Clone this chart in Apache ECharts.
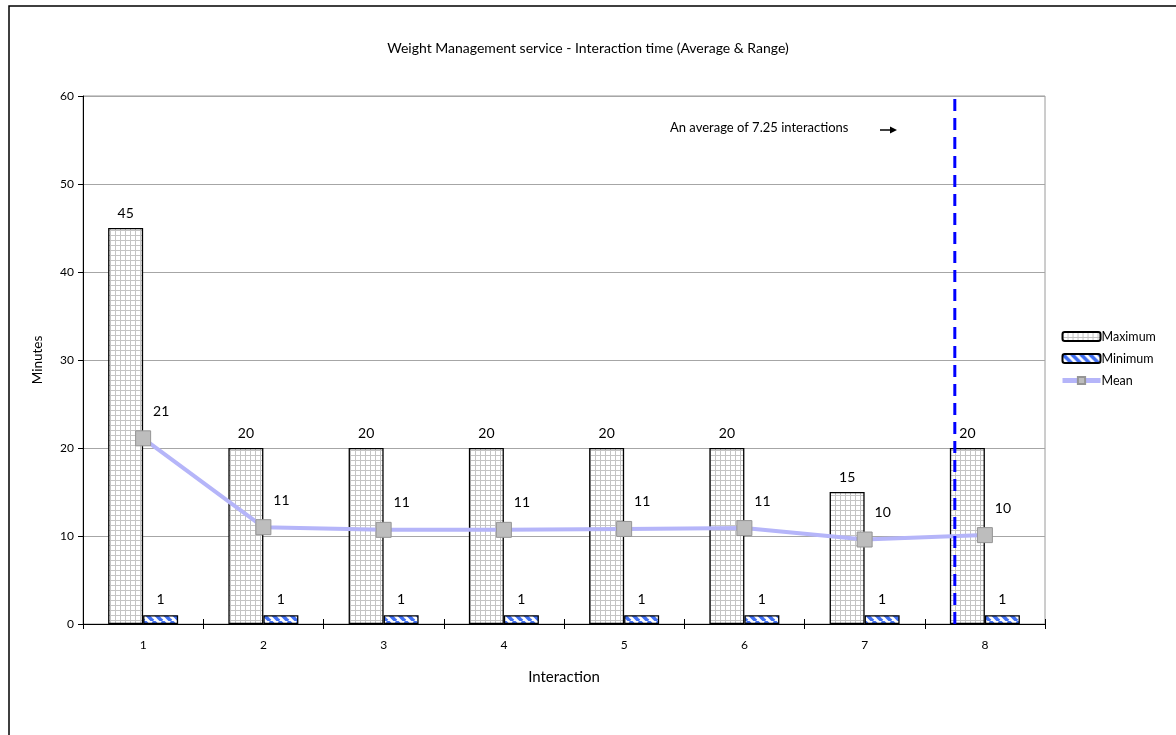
<!DOCTYPE html>
<html>
<head>
<meta charset="utf-8">
<title>Weight Management service - Interaction time</title>
<script src="https://cdn.jsdelivr.net/npm/echarts@6/dist/echarts.min.js"></script>
<style>
  html, body { margin: 0; padding: 0; background: #ffffff; }
  #chart { width: 1176px; height: 735px; }
</style>
</head>
<body>
<div id="chart"></div>
<script>
// Interaction number on the x axis
const interactions = ['1', '2', '3', '4', '5', '6', '7', '8'];
// Minutes per interaction
const maximumMinutes = [45, 20, 20, 20, 20, 20, 15, 20];
const minimumMinutes = [1, 1, 1, 1, 1, 1, 1, 1];
const meanMinutes = [21.1, 11.0, 10.7, 10.7, 10.8, 10.9, 9.6, 10.1];
// Average number of interactions per client (position of the dashed marker)
const averageInteractions = 7.25;
const yTicks = [0, 10, 20, 30, 40, 50, 60];

const FONT = 'Lato, "Open Sans", "Liberation Sans", sans-serif';

// Light grey grid fill for the maximum bars
function gridPattern() {
  const c = document.createElement('canvas');
  c.width = 5; c.height = 5;
  const g = c.getContext('2d');
  g.fillStyle = '#ffffff';
  g.fillRect(0, 0, 5, 5);
  g.fillStyle = '#c4c4c4';
  g.fillRect(0, 0, 5, 1);
  g.fillRect(0, 0, 1, 5);
  return { image: c, repeat: 'repeat' };
}

// Blue diagonal stripes for the minimum bars
function stripePattern() {
  const s = 9;
  const c = document.createElement('canvas');
  c.width = s; c.height = s;
  const g = c.getContext('2d');
  g.fillStyle = '#ffffff';
  g.fillRect(0, 0, s, s);
  g.strokeStyle = '#3f6ef2';
  g.lineWidth = 3.6;
  for (let k = -1; k <= 1; k++) {
    g.beginPath();
    g.moveTo(k * s, 0);
    g.lineTo(k * s + s, s);
    g.stroke();
  }
  return { image: c, repeat: 'repeat' };
}

const chart = echarts.init(document.getElementById('chart'), null, { renderer: 'canvas' });

const meanLine = { color: '#b5b5f9', width: 4 };
const meanMarker = { color: '#bdbdbd', borderColor: '#959595', borderWidth: 1 };

const option = {
  backgroundColor: '#ffffff',
  animation: false,
  textStyle: { fontFamily: FONT, color: '#000' },
  title: {
    text: 'Weight Management service - Interaction time (Average & Range)',
    left: 'center',
    top: 36,
    textStyle: { fontFamily: FONT, fontSize: 14, fontWeight: 'normal', color: '#000' }
  },
  legend: {
    orient: 'vertical',
    left: 1055,
    top: 325,
    itemWidth: 38,
    itemHeight: 9,
    itemGap: 9,
    textStyle: { fontFamily: FONT, fontSize: 12.5, color: '#000', padding: [0, 0, 0, -4] },
    data: [
      'Maximum',
      'Minimum',
      { name: 'Mean', lineStyle: { color: meanLine.color, width: 5 } }
    ]
  },
  grid: {
    left: 83, right: 131, top: 96, bottom: 111,
    show: true,
    borderColor: '#9a9a9a',
    borderWidth: 1,
    containLabel: false
  },
  xAxis: [
    {
      type: 'category',
      data: interactions,
      boundaryGap: true,
      name: 'Interaction',
      nameLocation: 'middle',
      nameGap: 46,
      nameTextStyle: { fontFamily: FONT, fontSize: 15, color: '#000' },
      axisLine: { lineStyle: { color: '#000', width: 1 } },
      axisTick: { show: true, length: 5, lineStyle: { color: '#000' } },
      axisLabel: { fontFamily: FONT, fontSize: 12, color: '#000', margin: 15 },
      splitLine: { show: false }
    },
    {
      // Continuous interaction scale used for the average marker
      type: 'value',
      position: 'bottom',
      min: 0,
      max: 8,
      interval: 1,
      axisLine: { show: false },
      axisTick: { show: true, inside: true, length: 5, lineStyle: { color: '#000' } },
      axisLabel: { show: false },
      splitLine: { show: false }
    }
  ],
  yAxis: {
    type: 'value',
    min: yTicks[0],
    max: yTicks[yTicks.length - 1],
    interval: 10,
    name: 'Minutes',
    nameLocation: 'middle',
    nameGap: 38,
    nameRotate: 90,
    nameTextStyle: { fontFamily: FONT, fontSize: 13.5, color: '#000' },
    axisLine: { show: true, lineStyle: { color: '#000', width: 1 } },
    axisTick: { show: true, length: 5, lineStyle: { color: '#000' } },
    axisLabel: { fontFamily: FONT, fontSize: 12, color: '#000', margin: 9 },
    splitLine: { show: true, lineStyle: { color: '#a6a6a6', width: 1 } }
  },
  series: [
    {
      name: 'Maximum',
      type: 'bar',
      xAxisIndex: 0,
      data: maximumMinutes,
      barWidth: 35,
      barGap: '0%',
      itemStyle: { color: gridPattern(), borderColor: '#000', borderWidth: 1.3 },
      label: {
        show: true, position: 'top', distance: 8,
        fontFamily: FONT, fontSize: 14, color: '#000'
      },
      z: 2
    },
    {
      name: 'Minimum',
      type: 'bar',
      xAxisIndex: 0,
      data: minimumMinutes,
      barWidth: 35,
      barGap: '0%',
      itemStyle: { color: stripePattern(), borderColor: '#000', borderWidth: 1.3 },
      label: {
        show: true, position: 'top', distance: 9,
        fontFamily: FONT, fontSize: 14, color: '#000'
      },
      z: 2
    },
    {
      name: 'Mean',
      type: 'line',
      xAxisIndex: 0,
      data: meanMinutes,
      symbol: 'rect',
      symbolSize: 15,
      lineStyle: meanLine,
      itemStyle: meanMarker,
      label: {
        show: true, position: 'top', distance: 5, offset: [18, -7],
        fontFamily: FONT, fontSize: 14, color: '#000',
        formatter: p => Math.round(p.value)
      },
      z: 4
    },
    {
      name: 'Average interactions',
      type: 'line',
      xAxisIndex: 1,
      data: [[averageInteractions, yTicks[0]], [averageInteractions, yTicks[yTicks.length - 1]]],
      symbol: 'none',
      silent: true,
      lineStyle: { color: '#0000ff', width: 3, type: [12, 7] },
      z: 5
    }
  ],
  graphic: [
    {
      type: 'rect',
      shape: { x: 9, y: 6, width: 1300, height: 900 },
      style: { fill: 'none', stroke: '#000', lineWidth: 1.5 },
      silent: true,
      z: 100
    },
    {
      type: 'text',
      left: 670,
      top: 121,
      style: {
        text: 'An average of 7.25 interactions',
        font: '13px ' + FONT,
        fill: '#000'
      }
    },
    {
      type: 'line',
      shape: { x1: 880, y1: 130, x2: 892, y2: 130 },
      style: { stroke: '#000', lineWidth: 1.5 }
    },
    {
      type: 'polygon',
      shape: { points: [[890, 126.5], [897, 130], [890, 133.5]] },
      style: { fill: '#000' }
    }
  ]
};

chart.setOption(option);
</script>
</body>
</html>
